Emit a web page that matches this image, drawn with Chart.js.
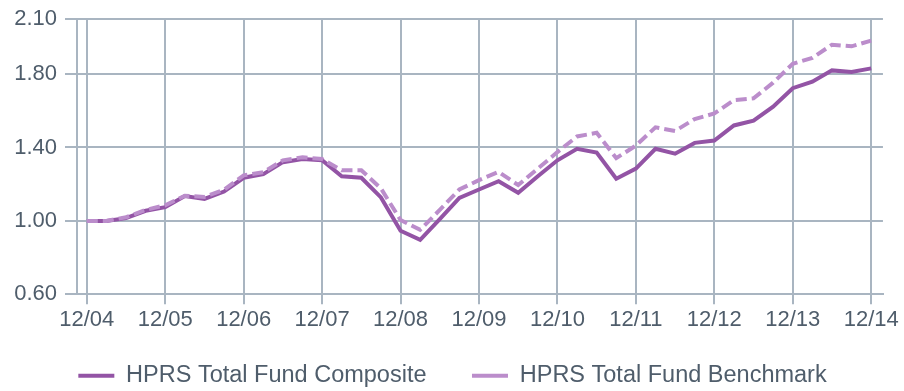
<!DOCTYPE html>
<html>
<head>
<meta charset="utf-8">
<script src="https://cdn.jsdelivr.net/npm/chart.js@4/dist/chart.umd.min.js"></script>
<style>
  html, body { margin: 0; padding: 0; background: #ffffff; }
  #wrap { width: 904px; height: 391px; }
</style>
</head>
<body>
<div id="wrap"><canvas id="c" width="904" height="391"></canvas></div>
<script>
// Quarter-end growth of $1, 12/04 through 12/14
const quarters = [
  "12/04","3/05","6/05","9/05","12/05","3/06","6/06","9/06","12/06","3/07","6/07","9/07",
  "12/07","3/08","6/08","9/08","12/08","3/09","6/09","9/09","12/09","3/10","6/10","9/10",
  "12/10","3/11","6/11","9/11","12/11","3/12","6/12","9/12","12/12","3/13","6/13","9/13",
  "12/13","3/14","6/14","9/14","12/14"
];
const composite = [
  1.00, 1.00, 1.015, 1.055, 1.075, 1.135, 1.12, 1.16, 1.235, 1.255, 1.32, 1.337,
  1.33, 1.243, 1.235, 1.128, 0.946, 0.897, 1.009, 1.125, 1.171, 1.216, 1.153, 1.243,
  1.33, 1.393, 1.372, 1.23, 1.285, 1.393, 1.366, 1.425, 1.438, 1.52, 1.546, 1.622,
  1.723, 1.758, 1.82, 1.811, 1.831
];
const benchmark = [
  1.00, 1.00, 1.02, 1.06, 1.085, 1.137, 1.13, 1.17, 1.248, 1.265, 1.33, 1.347,
  1.337, 1.276, 1.276, 1.177, 1.005, 0.951, 1.06, 1.171, 1.222, 1.267, 1.195, 1.285,
  1.375, 1.46, 1.48, 1.342, 1.41, 1.51, 1.49, 1.555, 1.585, 1.658, 1.668, 1.753,
  1.856, 1.888, 1.96, 1.951, 1.982
];
const yTicks = [0.60, 1.00, 1.40, 1.80, 2.10];
const seriesNames = ["HPRS Total Fund Composite", "HPRS Total Fund Benchmark"];

const gridColor = "#a9b5c1";
const textColor = "#4f5d6b";
const fontFamily = "'Liberation Sans', Arial, sans-serif";

const toPoints = arr => arr.map((v, i) => ({ x: i, y: v }));
const yearTickIdx = quarters.map((q, i) => q.startsWith("12/") ? i : -1).filter(i => i >= 0);

new Chart(document.getElementById("c"), {
  type: "line",
  data: {
    datasets: [
      {
        label: seriesNames[0],
        data: toPoints(composite),
        xAxisID: "x",
        yAxisID: "y",
        borderColor: "#9354a5",
        backgroundColor: "#9354a5",
        borderWidth: 4,
        pointRadius: 0,
        pointStyle: "line",
        tension: 0,
        order: 1
      },
      {
        label: seriesNames[1],
        data: toPoints(benchmark),
        xAxisID: "x",
        yAxisID: "y",
        borderColor: "#bb8dcb",
        backgroundColor: "#bb8dcb",
        borderWidth: 4,
        borderDash: [11, 5],
        pointRadius: 0,
        pointStyle: "line",
        tension: 0,
        order: 0
      }
    ]
  },
  options: {
    responsive: false,
    animation: false,
    devicePixelRatio: 1,
    layout: { padding: { top: 14, right: 9, bottom: -6.5, left: 10 } },
    plugins: {
      tooltip: { enabled: false },
      legend: {
        position: "bottom",
        labels: {
          usePointStyle: true,
          pointStyleWidth: 36,
          boxHeight: 23.5,
          padding: 22,
          color: textColor,
          font: { family: fontFamily, size: 23.5 },
          sort: (a, b) => a.datasetIndex - b.datasetIndex,
          // an em space after the first entry widens the gap between the two keys
          generateLabels: chart => {
            const items = Chart.defaults.plugins.legend.labels.generateLabels(chart);
            items.forEach(it => { if (it.datasetIndex === 0) it.text = it.text + "\u2003"; });
            return items;
          }
        }
      }
    },
    scales: {
      x: {
        type: "linear",
        min: -0.5,
        max: 40.6,
        afterBuildTicks: s => { s.ticks = yearTickIdx.map(i => ({ value: i })); },
        afterFit: s => { s.height = 47.7; },
        ticks: {
          autoSkip: false,
          maxRotation: 0,
          padding: 5,
          color: textColor,
          font: { family: fontFamily, size: 22, lineHeight: 1 },
          callback: v => quarters[v]
        },
        grid: { color: gridColor, lineWidth: 2, tickLength: 10, drawOnChartArea: true },
        border: { color: gridColor, width: 2 }
      },
      y: {
        type: "linear",
        position: "left",
        min: 0.6,
        max: 2.1,
        afterBuildTicks: s => { s.ticks = yTicks.map(v => ({ value: v })); },
        afterFit: s => { s.width = 67; },
        ticks: {
          padding: 8,
          color: textColor,
          font: { family: fontFamily, size: 22, lineHeight: 1 },
          callback: v => Number(v).toFixed(2)
        },
        grid: { color: gridColor, lineWidth: 2, tickLength: 12 },
        border: { color: gridColor, width: 2 }
      },
      // empty strip on the right so the grid stops short of the canvas edge
      yRight: {
        type: "linear",
        position: "right",
        display: true,
        min: 0.6,
        max: 2.1,
        afterFit: s => { s.width = 11; },
        ticks: { display: false },
        grid: { display: false, drawTicks: false },
        border: { display: false }
      }
    }
  }
});
</script>
</body>
</html>
